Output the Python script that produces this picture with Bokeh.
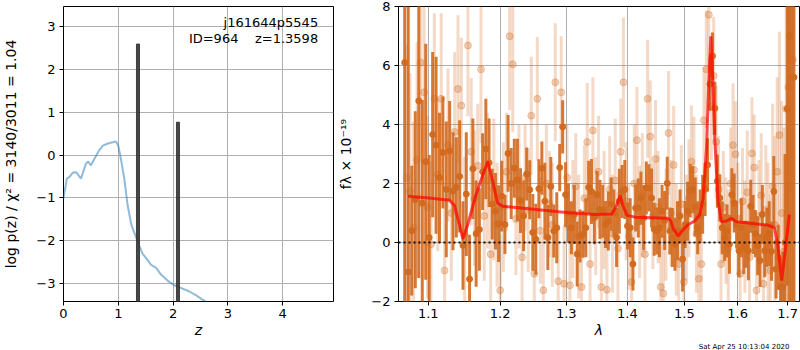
import numpy as np
from bokeh.plotting import figure
from bokeh.layouts import row
from bokeh.models import Label, Span, FixedTicker, PrintfTickFormatter, Range1d, Title
from bokeh.embed import file_html
from bokeh.resources import INLINE

FONT = "DejaVu Sans"

# ---------------- left panel: redshift probability ----------------
z_grid = [0.0, 0.06, 0.11, 0.17, 0.23, 0.32, 0.41, 0.45, 0.5, 0.56, 0.65, 0.72,
          0.81, 0.9, 0.96, 1.0, 1.05, 1.11, 1.17, 1.24, 1.32, 1.44, 1.6, 1.69,
          1.78, 1.9, 2.02, 2.14, 2.29, 2.44, 2.53, 2.6, 2.7]
log_pz = [-1.02, -0.55, -0.51, -0.41, -0.40, -0.55, -0.2, -0.15, -0.24, -0.1, 0.11, 0.22,
          0.27, 0.3, 0.32, 0.22, -0.1, -0.55, -1.17, -1.64, -1.91, -2.3, -2.57, -2.64,
          -2.8, -2.94, -3.05, -3.11, -3.19, -3.3, -3.38, -3.43, -3.6]
peak_z = [1.36, 2.09]
peak_h = [2.6, 0.77]
title_name = "j161644p5545"
title_info = "ID=964\u00a0\u00a0\u00a0\u00a0z=1.3598"

# ---------------- right panel: spectrum ----------------
lam_start_dark = 1.069
lam_start_light = 1.0713
lam_step = 0.0046

dark_flux = [
    6.1, -1.0, 0.4, 1.45, 4.8, 1.33, 2.74, 0.17, 3.66, 3.3,
    2.2, 3.05, 1.8, 3.1, 1.74, 1.87, 2.24, -0.1, 1.64, -1.24,
    2.5, 0.3, 0.44, 2.4, 3.17, 2.7, 1.3, 1.06, 0.64, 1.57,
    0.61, 3.02, 2.0, 2.52, 2.12, 1.42, 0.9, 2.32, 1.79, 0.34,
    0.11, 1.82, 2.52, 1.4, 0.17, 1.9, 0.39, 0.5, 2.54, 3.92,
    1.62, 1.0, 0.5, 0.95, -0.39, 0.22, 0.28, 0.5, 1.87, 1.73,
    0.84, 1.62, 1.12, 1.06, 0.61, 0.73, 1.3, 1.0, 0.17, 1.4,
    1.73, 1.8, 0.56, 0.5, -0.73, 1.17, 1.17, 1.51, 0.84, 1.85,
    1.85, 1.51, 0.45, 0.39, 0.5, 1.06, 0.75, 2.01, 0.39, 0.17,
    -0.06, 0.4, 0.9, -0.56, 0.61, 1.06, 1.76, 1.79, 1.2, 0.5,
    0.9, 1.3, 1.8, 2.63, 5.37, 6.32, 4.55, 2.08, 1.51, 0.5,
    0.17, 0.39, -0.06, 1.62, 1.34, 0.6, -0.28, 0.5, -0.17, -0.06,
    -0.28, 1.23, 0.61, 0.3, -0.11, -0.61, 0.95, -0.28, 0.17, 0.3,
    -0.3, 1.73, -0.9, -0.5, -1.51, -1.51, 0.0, 4.53, 7.0, 5.59,
    5.6]
dark_err = [
    9, 9, 2.2, 3.0, 6, 3.5, 4, 2.8, 2.8, 3.0,
    2.2, 1.9, 2.3, 1.7, 2.0, 1.7, 1.9, 1.5, 2.1, 1.5,
    1.7, 1.8, 1.4, 1.3, 1.7, 1.5, 1.2, 1.3, 1.3, 1.2,
    1.0, 1.3, 1.2, 1.0, 1.4, 1.1, 1.2, 0.9, 1.0, 1.3,
    1.2, 1.0, 0.9, 1.3, 1.1, 1.0, 0.9, 1.2, 0.8, 0.9,
    1.1, 1.0, 0.9, 1.0, 1.1, 0.9, 0.8, 1.0, 0.9, 1.1,
    0.9, 0.8, 1.0, 0.9, 0.8, 1.0, 0.9, 0.8, 1.0, 1.1,
    0.9, 1.0, 0.8, 1.0, 0.9, 0.8, 1.0, 0.9, 1.1, 0.9,
    0.8, 1.0, 0.9, 0.8, 1.0, 0.9, 1.0, 0.9, 0.8, 1.0,
    0.9, 1.0, 0.9, 1.1, 0.8, 1.0, 0.9, 0.8, 1.0, 0.9,
    0.9, 1.0, 0.9, 0.9, 0.9, 0.8, 0.9, 0.9, 0.8, 0.9,
    0.8, 0.9, 1.0, 0.9, 1.0, 0.8, 0.9, 1.0, 0.9, 0.8,
    1.0, 0.9, 1.0, 0.8, 1.0, 0.9, 1.0, 0.9, 1.0, 1.1,
    1.0, 1.2, 1.0, 1.1, 1.0, 1.2, 3.0, 6, 10, 10,
    10]

light_flux = [
    2.2, 1.74, 0.5, 2.8, 6.1, 5.09, 1.2, -0.06, 4.87, 2.3,
    4.87, -0.95, 3.3, 1.0, 3.75, 5.2, 4.64, 0.3, 6.68, 3.08,
    1.5, 2.6, 5.87, 0.9, 2.1, -0.4, 1.8, 0.6, -1.62, 1.2,
    2.4, 6.99, 6.04, 0.8, 1.9, -0.5, 2.2, 1.1, 4.3, -1.06,
    4.87, 0.4, -1.62, 2.0, 1.3, 0.6, 5.43, -1.31, 5.09, -1.4,
    2.2, -1.45, 0.8, 1.9, 0.2, -1.51, 1.5, 3.41, -0.73, 3.8,
    0.9, 2.4, -1.51, 1.1, -1.6, 1.8, 0.3, 2.1, -0.2, 3.08,
    5.43, 1.4, 0.2, -1.34, 2.0, 3.47, 0.7, 1.6, -0.4, 4.87,
    3.59, 0.9, 2.83, 1.2, -1.51, -1.73, 0.6, 3.71, 1.0, 2.63,
    0.1, -0.73, 1.3, -1.34, 0.5, 1.5, 2.74, 2.46, 0.3, -1.23,
    -0.73, 4.14, 5.87, 7.72, 4.6, 5.65, 3.41, 1.8, -0.73, 1.2,
    0.4, -0.2, 2.0, 3.3, 2.99, 0.8, -1.06, 1.4, 0.2, 1.7,
    -0.5, 3.02, 2.54, -1.62, 0.9, 1.6, -1.4, 1.1, 0.3, -0.95,
    1.9, 0.6, 2.4, 3.64, 1.0, -0.3, 4.53, 5.26, 7.21, 6.2]
light_err = [
    4.5, 4.0, 3.6, 4.0, 3.2, 3.0, 3.1, 2.8, 2.9, 2.6,
    2.9, 2.4, 2.6, 2.3, 2.7, 2.5, 2.3, 2.6, 2.4, 2.5,
    2.3, 2.1, 2.5, 2.2, 2.3, 2.0, 2.4, 2.1, 1.9, 2.2,
    2.0, 2.5, 2.3, 1.9, 2.1, 2.0, 1.8, 2.1, 2.0, 1.9,
    2.1, 1.8, 1.9, 2.0, 1.8, 2.1, 2.0, 1.8, 1.9, 2.0,
    1.8, 1.9, 2.0, 1.8, 2.1, 1.9, 1.8, 2.0, 1.9, 1.8,
    2.0, 1.9, 1.8, 2.0, 1.9, 1.8, 2.0, 2.1, 1.9, 1.8,
    2.2, 2.0, 1.8, 1.9, 2.0, 1.8, 1.9, 2.1, 1.8, 2.0,
    1.9, 1.8, 2.0, 1.9, 1.8, 2.0, 1.9, 2.1, 1.8, 2.0,
    1.9, 1.8, 2.0, 1.9, 1.8, 2.0, 1.9, 1.8, 2.0, 1.9,
    2.1, 1.8, 2.0, 1.9, 1.8, 2.0, 1.9, 1.8, 2.1, 1.9,
    1.8, 2.0, 1.9, 2.1, 1.8, 1.9, 2.0, 1.8, 1.9, 2.1,
    2.0, 1.9, 1.8, 2.0, 1.9, 2.1, 2.0, 2.2, 2.4, 2.6,
    2.8, 3.0, 3.2, 3.5, 3.8, 4.2, 4.6, 5.0, 5.5, 6.0]

model_lam = [1.0734, 1.1013, 1.1286, 1.1354, 1.1423, 1.147, 1.1539, 1.1655, 1.175, 1.182,
             1.1892, 1.1964, 1.2036, 1.2529, 1.3041, 1.3468, 1.3742, 1.3825, 1.388, 1.3918,
             1.3992, 1.4133, 1.4711, 1.4757, 1.4803, 1.489, 1.4958, 1.507, 1.5192, 1.5284,
             1.5345, 1.5408, 1.5451, 1.5488, 1.5516, 1.5563, 1.5626, 1.569, 1.5784, 1.588,
             1.5975, 1.6596, 1.673, 1.6797, 1.6877, 1.6932, 1.7035]
model_flux = [1.57, 1.51, 1.43, 1.26, 0.61, 0.12, 0.61, 1.62, 2.29, 2.74,
              2.07, 1.34, 1.23, 1.12, 1.01, 0.95, 0.97, 1.29, 1.6, 1.29,
              0.92, 0.86, 0.82, 0.73, 0.45, 0.22, 0.39, 0.61, 0.73, 0.95,
              1.51, 3.19, 5.43, 6.99, 5.98, 3.52, 1.4, 0.7, 0.73, 0.82,
              0.7, 0.59, 0.5, -0.06, -1.29, -0.5, 0.95]
date_text = "Sat Apr 25 10:13:04 2020"

ORANGE = "#d2691e"

dark_lam = np.round(lam_start_dark + lam_step * np.arange(len(dark_flux)), 4)
light_lam = np.round(lam_start_light + lam_step * np.arange(len(light_flux)), 4)
dark_f = np.array(dark_flux)
dark_e = np.array(dark_err, dtype=float)
light_f = np.array(light_flux)
light_e = np.array(light_err, dtype=float)


def style(p, xlabel, ylabel):
    p.outline_line_color = "black"
    p.outline_line_width = 1
    p.outline_line_alpha = 1
    p.background_fill_color = "white"
    p.border_fill_color = "white"
    for ax in (p.xaxis[0], p.yaxis[0]):
        ax.axis_line_color = None
        ax.major_tick_line_color = "black"
        ax.major_tick_out = 4
        ax.major_tick_in = 0
        ax.minor_tick_line_color = None
        ax.major_label_text_font = FONT
        ax.major_label_text_font_size = "13px"
        ax.major_label_text_color = "black"
        ax.axis_label_text_font = FONT
        ax.axis_label_text_font_size = "14px"
        ax.axis_label_text_color = "black"
    p.xaxis[0].major_label_standoff = 3
    p.xaxis[0].axis_label_standoff = 1
    p.yaxis[0].major_label_standoff = 4
    p.yaxis[0].axis_label_standoff = 14
    p.xaxis[0].axis_label = xlabel
    p.xaxis[0].axis_label_text_font_style = "italic"
    p.yaxis[0].axis_label = ylabel
    p.yaxis[0].axis_label_text_font_style = "normal"
    p.grid.grid_line_color = "#b0b0b0"
    p.grid.grid_line_width = 1


H = 350
BOTTOM = 48
# ----- left figure -----
p1 = figure(width=335, height=H, x_range=Range1d(0, 4.93), y_range=Range1d(-3.43, 3.48),
            output_backend="svg", toolbar_location=None,
            min_border_left=62, min_border_right=2, min_border_top=6, min_border_bottom=BOTTOM)
style(p1, "z", "log p(z) / \u03c7\u00b2 = 3140/3011 = 1.04")
p1.xaxis.ticker = FixedTicker(ticks=[0, 1, 2, 3, 4])
p1.yaxis.ticker = FixedTicker(ticks=[-3, -2, -1, 0, 1, 2, 3])
p1.yaxis.major_label_overrides = {-3: "\u22123", -2: "\u22122", -1: "\u22121"}

p1.line(z_grid, log_pz, color="#1f77b4", alpha=0.5, line_width=2)
p1.vbar(x=peak_z, top=peak_h, bottom=-3.43, width=0.055, color="#333333", alpha=0.9)
p1.add_layout(Label(x=4.65, y=3.1, text=title_name, text_align="right", text_baseline="middle",
                    text_font=FONT, text_font_size="13px", text_color="black"))
p1.add_layout(Label(x=4.65, y=2.74, text=title_info, text_align="right", text_baseline="middle",
                    text_font=FONT, text_font_size="13px", text_color="black"))

# ----- right figure -----
p2 = figure(width=465, height=H, x_axis_type="log",
            x_range=Range1d(1.061, 1.7245), y_range=Range1d(-2, 8),
            output_backend="svg", toolbar_location=None,
            min_border_left=57, min_border_right=1, min_border_top=6, min_border_bottom=BOTTOM)
style(p2, "\u03bb", "f\u03bb \u00d7 10\u207b\u00b9\u2079")
p2.xaxis.ticker = FixedTicker(ticks=[1.1, 1.2, 1.3, 1.4, 1.5, 1.6, 1.7])
p2.xaxis.formatter = PrintfTickFormatter(format="%.1f")
p2.yaxis.ticker = FixedTicker(ticks=[-2, 0, 2, 4, 6, 8])
p2.yaxis.major_label_overrides = {-2: "\u22122"}

p2.segment(x0=light_lam, y0=light_f - light_e, x1=light_lam, y1=light_f + light_e,
           color=ORANGE, alpha=0.25, line_width=3)
p2.scatter(light_lam, light_f, size=7, color=ORANGE, alpha=0.3)
p2.segment(x0=dark_lam, y0=dark_f - dark_e, x1=dark_lam, y1=dark_f + dark_e,
           color=ORANGE, alpha=0.9, line_width=3)
p2.scatter(dark_lam, dark_f, size=6, color=ORANGE, alpha=0.95)
p2.line(model_lam, model_flux, color="red", alpha=0.7, line_width=3)
p2.add_layout(Span(location=0, dimension="width", line_color="black", line_dash="2 3",
                   line_width=2, line_alpha=0.9))
p2.add_layout(Title(text=date_text, align="right", text_font=FONT, text_font_size="7px",
                    text_font_style="normal", text_color="black", standoff=0, offset=10), "below")

layout = row(p1, p2)
open("out.html", "w").write(file_html(layout, INLINE))
